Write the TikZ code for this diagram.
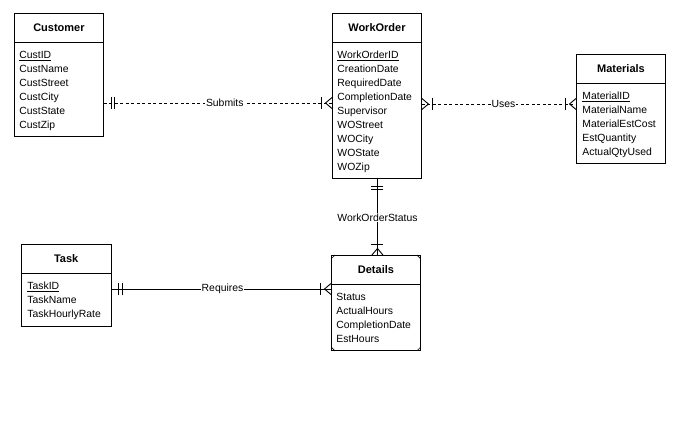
\documentclass[tikz,border=0pt]{standalone}
\usepackage{fontspec}
\setmainfont{Liberation Sans}
\usetikzlibrary{calc}
\begin{document}
\begin{tikzpicture}[x=1pt,y=-1pt, line width=0.9pt,
 ent/.style={draw, rectangle, inner sep=0pt, anchor=north west},
 hdr/.style={font=\fontsize{11}{14}\selectfont\bfseries, anchor=base, inner sep=0pt},
 attr/.style={font=\fontsize{10.4}{14}\selectfont, anchor=base west, inner sep=0pt},
 rel/.style={font=\fontsize{10.4}{14}\selectfont, fill=white, inner sep=1pt},
 weak/.style={dash pattern=on 3pt off 2.5pt},
 crow/.pic={\draw[solid] (0,-5.5) -- (6.5,0) -- (0,5.5); \draw[solid] (11,-6) -- (11,6);},
 oneone/.pic={\draw[solid] (7.5,-6) -- (7.5,6); \draw[solid] (11,-6) -- (11,6);}]
\useasboundingbox[fill=white] (0,0) rectangle (677,435);

% Entities
\node[ent, minimum width=89pt, minimum height=123pt] (cust) at (14,13) {};
\node[ent, minimum width=89pt, minimum height=165pt] (wo) at (332,13) {};
\node[ent, minimum width=89pt, minimum height=109pt] (mat) at (576,54) {};
\node[ent, minimum width=89.5pt, minimum height=82pt] (task) at (21,244) {};
\node[ent, minimum width=89pt, minimum height=95pt] (det) at (331,255) {};

% Header separators and titles
\foreach \e/\t in {cust/Customer, wo/WorkOrder, mat/Materials, task/Task, det/Details}{
  \draw ($(\e.north west)+(0,29)$) -- ($(\e.north east)+(0,29)$);
  \node[hdr] (\e-h) at ($(\e.north)+(0,19)$) {\t};
}

% Attributes
\foreach [count=\i] \t in {\underline{CustID}, CustName, CustStreet, CustCity, CustState, CustZip}
  \node[attr] (cust-\i) at ($(cust.north west)+(5,32+14*\i)$) {\t};
\foreach [count=\i] \t in {\underline{WorkOrderID}, CreationDate, RequiredDate, CompletionDate, Supervisor, WOStreet, WOCity, WOState, WOZip}
  \node[attr] (wo-\i) at ($(wo.north west)+(5,32+14*\i)$) {\t};
\foreach [count=\i] \t in {\underline{MaterialID}, MaterialName, MaterialEstCost, EstQuantity, ActualQtyUsed}
  \node[attr] (mat-\i) at ($(mat.north west)+(6,32+14*\i)$) {\t};
\foreach [count=\i] \t in {\underline{TaskID}, TaskName, TaskHourlyRate}
  \node[attr] (task-\i) at ($(task.north west)+(6,32+14*\i)$) {\t};
\foreach [count=\i] \t in {Status, ActualHours, CompletionDate, EstHours}
  \node[attr] (det-\i) at ($(det.north west)+(5,32+14*\i)$) {\t};

% Details corner marks
\foreach \a/\dx/\dy in {north west/1/1, north east/-1/1, south west/1/-1, south east/-1/-1}
  \draw[line width=0.6pt] ($(det.\a)+(0,4*\dy)$) -- ($(det.\a)+(4*\dx,0)$);

% Submits
\coordinate (s1) at ($(cust.north east)+(0,90)$);
\coordinate (s2) at ($(wo.north west)+(0,90)$);
\draw[weak] (s1) -- node[rel, pos=0.53] (submits) {Submits} (s2);
\pic at (s1) {oneone};
\pic[rotate=180] at (s2) {crow};

% Uses
\coordinate (u1) at ($(wo.north east)+(0,91)$);
\coordinate (u2) at ($(mat.north west)+(0,50)$);
\draw[weak] (u1) -- node[rel, pos=0.53] (uses) {Uses} (u2);
\pic at (u1) {crow};
\pic[rotate=180] at (u2) {crow};

% WorkOrderStatus
\coordinate (w1) at ($(wo.south)+(0.5,0)$);
\coordinate (w2) at (w1 |- det.north);
\draw (w1) -- node[rel, pos=0.506] (wos) {WorkOrderStatus} (w2);
\pic[rotate=-90] at (w1) {oneone};
\pic[rotate=90] at (w2) {crow};

% Requires
\coordinate (r1) at ($(task.north east)+(0,45)$);
\coordinate (r2) at (r1 -| det.west);
\draw (r1) -- node[rel, pos=0.506] (req) {Requires} (r2);
\pic at (r1) {oneone};
\pic[rotate=180] at (r2) {crow};
\end{tikzpicture}
\end{document}
